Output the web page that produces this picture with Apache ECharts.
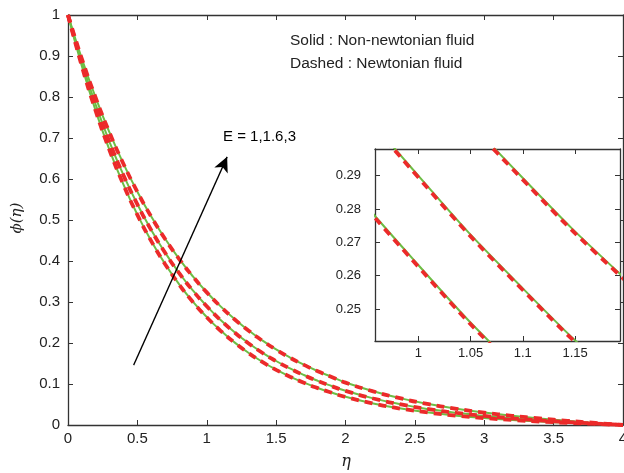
<!DOCTYPE html>
<html>
	<head>
		<meta charset="UTF-8">
		<title></title>
		<style>
			html, body { margin: 0; padding: 0; background: #fff; }
			#main { width: 624px; height: 473px; }
		</style>
	</head>
	<body>
		<div id="main"></div>
		<script type="text/javascript" src="https://cdn.jsdelivr.net/npm/echarts@6/dist/echarts.min.js"></script>
		<script>
			// eta grid (x values)
			var eta = [0, 0.1, 0.2, 0.3, 0.4, 0.5, 0.6, 0.7, 0.8, 0.9, 1.0, 1.1, 1.2, 1.3, 1.4, 1.5, 1.6, 1.7, 1.8, 1.9, 2.0,
				2.2, 2.4, 2.6, 2.8, 3.0, 3.2, 3.4, 3.6, 3.8, 4.0];
			var eNames = ['E=1', 'E=1.6', 'E=3'];
			// solid : non-newtonian fluid
			var solidE1 = [1, 0.8750, 0.7657, 0.6700, 0.5862, 0.5130, 0.4489, 0.3928, 0.3437, 0.3007, 0.2632, 0.2303, 0.2015, 0.1763, 0.1543, 0.1350, 0.1181, 0.1034, 0.0904, 0.0791, 0.0689,
				0.0526, 0.0400, 0.0304, 0.0228, 0.0170, 0.0123, 0.0085, 0.0054, 0.0026, 0];
			var solidE16 = [1, 0.8836, 0.7807, 0.6898, 0.6094, 0.5385, 0.4758, 0.4204, 0.3714, 0.3282, 0.2900, 0.2562, 0.2264, 0.2000, 0.1767, 0.1561, 0.1380, 0.1219, 0.1077, 0.0951, 0.0835,
				0.0649, 0.0503, 0.0388, 0.0296, 0.0223, 0.0164, 0.0115, 0.0073, 0.0035, 0];
			var solidE3 = [1, 0.8934, 0.7981, 0.7130, 0.6370, 0.5691, 0.5084, 0.4542, 0.4058, 0.3625, 0.3239, 0.2893, 0.2585, 0.2309, 0.2063, 0.1843, 0.1646, 0.1471, 0.1314, 0.1174, 0.1037,
				0.0823, 0.0650, 0.0510, 0.0397, 0.0304, 0.0226, 0.0161, 0.0103, 0.0050, 0];
			// dashed : newtonian fluid
			var dashE1 = [1, 0.8748, 0.7654, 0.6695, 0.5857, 0.5125, 0.4484, 0.3923, 0.3432, 0.3002, 0.2627, 0.2298, 0.2010, 0.1758, 0.1538, 0.1345, 0.1177, 0.1030, 0.0900, 0.0787, 0.0685,
				0.0523, 0.0398, 0.0302, 0.0226, 0.0169, 0.0122, 0.0084, 0.0053, 0.0026, 0];
			var dashE16 = [1, 0.8834, 0.7804, 0.6893, 0.6089, 0.5380, 0.4753, 0.4199, 0.3709, 0.3277, 0.2895, 0.2557, 0.2259, 0.1995, 0.1762, 0.1556, 0.1376, 0.1215, 0.1073, 0.0947, 0.0831,
				0.0646, 0.0501, 0.0386, 0.0294, 0.0222, 0.0163, 0.0114, 0.0072, 0.0035, 0];
			var dashE3 = [1, 0.8932, 0.7978, 0.7125, 0.6365, 0.5686, 0.5079, 0.4537, 0.4053, 0.3620, 0.3234, 0.2888, 0.2580, 0.2304, 0.2058, 0.1838, 0.1642, 0.1467, 0.1310, 0.1170, 0.1033,
				0.0820, 0.0648, 0.0508, 0.0395, 0.0303, 0.0225, 0.0160, 0.0102, 0.0050, 0];
			// ticks
			var insetXTicks = [1, 1.05, 1.1, 1.15];
			var insetYTicks = [0.25, 0.26, 0.27, 0.28, 0.29];
			// arrow (data coords)
			var arrowFrom = [0.473, 0.146];
			var arrowTo = [1.147, 0.654];

			var green = '#6dbd45';
			var red = '#ec2a2a';
			var axisColor = '#333';
			var font = 'Liberation Sans';

			function pairs(ys) {
				var out = [];
				for(var i = 0; i < eta.length; i++) {
					out.push([eta[i], ys[i]]);
				}
				return out;
			}

			function boxAxis(grid, pos, min, max, interval, showLabel, size, custom) {
				var ax = {
					type: 'value',
					gridIndex: grid,
					position: pos,
					min: min,
					max: max,
					splitLine: { show: false },
					axisLine: { show: true, onZero: false, lineStyle: { color: axisColor, width: 1.3 } },
					axisTick: { show: true, inside: true, length: 5, lineStyle: { color: axisColor, width: 1 } },
					axisLabel: { show: showLabel, color: '#222', fontSize: size, fontFamily: font,
						margin: (pos == 'left' || pos == 'right') ? (grid == 1 ? 14 : 8) : 6 }
				};
				if(custom) {
					ax.axisTick.customValues = custom;
					ax.axisLabel.customValues = custom;
				} else {
					ax.interval = interval;
				}
				return ax;
			}

			var solids = [solidE1, solidE16, solidE3];
			var dashes = [dashE1, dashE16, dashE3];
			var series = [];
			for(var g = 0; g < 2; g++) {
				for(var i = 0; i < 3; i++) {
					series.push({
						name: eNames[i] + ' solid',
						type: 'line',
						xAxisIndex: g * 2,
						yAxisIndex: g * 2,
						data: pairs(solids[i]),
						smooth: true,
						showSymbol: false,
						clip: true,
						lineStyle: { color: green, width: 2 },
						z: 3 + g * 5
					});
				}
				for(var i = 0; i < 3; i++) {
					series.push({
						name: eNames[i] + ' dashed',
						type: 'line',
						xAxisIndex: g * 2,
						yAxisIndex: g * 2,
						data: pairs(dashes[i]),
						smooth: true,
						showSymbol: false,
						clip: true,
						lineStyle: { color: red, width: 3.8, type: [8, 6] },
						z: 4 + g * 5
					});
				}
			}
			// arrow
			series[0].markLine = {
				silent: true,
				symbol: ['none', 'arrow'],
				symbolSize: [11, 15],
				label: { show: false },
				lineStyle: { color: '#000', width: 1.3, type: 'solid' },
				data: [[{ coord: arrowFrom }, { coord: arrowTo }]]
			};

			var myChart = echarts.init(document.getElementById('main'));
			var option = {
				animation: false,
				backgroundColor: '#fff',
				grid: [
					{ left: 68, top: 15, width: 555, height: 410, outerBoundsMode: 'none' },
					{ left: 375, top: 149, width: 245, height: 192, outerBoundsMode: 'none', show: true, backgroundColor: '#fff', borderWidth: 0, z: 5 }
				],
				xAxis: [
					boxAxis(0, 'bottom', 0, 4, 0.5, true, 15),
					boxAxis(0, 'top', 0, 4, 0.5, false, 15),
					boxAxis(1, 'bottom', 0.9586, 1.193, null, true, 13, insetXTicks),
					boxAxis(1, 'top', 0.9586, 1.193, null, false, 13, insetXTicks)
				],
				yAxis: [
					boxAxis(0, 'left', 0, 1, 0.1, true, 15),
					boxAxis(0, 'right', 0, 1, 0.1, false, 15),
					boxAxis(1, 'left', 0.2404, 0.298, null, true, 13, insetYTicks),
					boxAxis(1, 'right', 0.2404, 0.298, null, false, 13, insetYTicks)
				],
				graphic: [
					{ type: 'text', left: 290, top: 33, style: { text: 'Solid : Non-newtonian fluid', font: '15.5px "Liberation Sans"', fill: '#222' } },
					{ type: 'text', left: 290, top: 56, style: { text: 'Dashed : Newtonian fluid', font: '15.5px "Liberation Sans"', fill: '#222' } },
					{ type: 'text', left: 223, top: 129, style: { text: 'E = 1,1.6,3', font: '15px "Liberation Sans"', fill: '#000' } },
					{ type: 'text', x: 346, y: 462, style: { text: 'η', font: 'italic 16px "DejaVu Serif"', fill: '#222', align: 'center', verticalAlign: 'middle' } },
					{ type: 'text', x: 17, y: 218, rotation: Math.PI / 2, style: { text: 'ϕ(η)', font: 'italic 15px "DejaVu Serif"', fill: '#222', align: 'center', verticalAlign: 'middle' } }
				],
				series: series
			};
			// inset axes above the inset background
			for(var k = 2; k < 4; k++) {
				option.xAxis[k].z = 6;
				option.yAxis[k].z = 6;
			}
			myChart.setOption(option);
		</script>
	</body>
</html>
